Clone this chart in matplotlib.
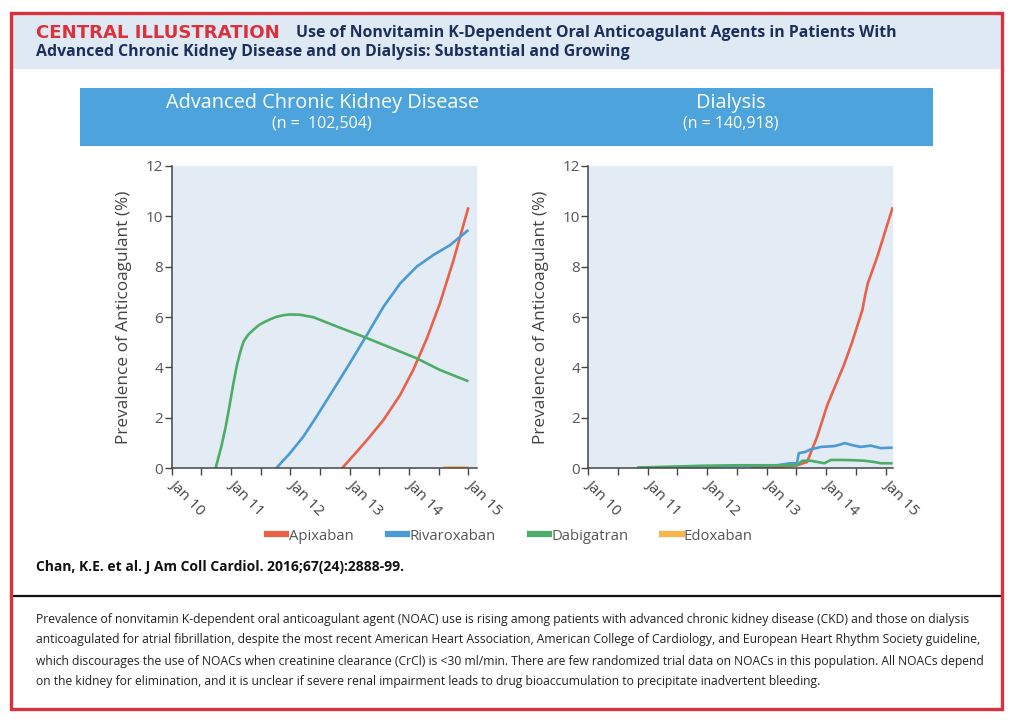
import matplotlib
matplotlib.use("Agg")
import matplotlib.pyplot as plt
import matplotlib.patches as mpatches
from matplotlib.lines import Line2D

plt.rcParams["font.family"] = ["Open Sans", "DejaVu Sans"]

W, H = 1019, 722

# --- data (years since Jan 2010, prevalence %) ---
ckd_apix_x = [2.87, 3.12, 3.34, 3.57, 3.85, 4.07, 4.30, 4.52, 4.75, 5.00]
ckd_apix_y = [0.0, 0.66, 1.26, 1.92, 2.91, 3.90, 5.15, 6.54, 8.26, 10.35]
ckd_riva_x = [1.76, 1.99, 2.22, 2.44, 2.72, 3.00, 3.29, 3.57, 3.85, 4.13, 4.41, 4.69, 5.00]
ckd_riva_y = [0.0, 0.59, 1.26, 2.05, 3.10, 4.16, 5.29, 6.41, 7.33, 8.00, 8.46, 8.85, 9.45]
ckd_dabi_x = [0.74, 0.84, 0.91, 0.98, 1.04, 1.10, 1.16, 1.21, 1.29, 1.38, 1.47, 1.57, 1.67,
              1.77, 1.88, 1.99, 2.16, 2.39, 2.72, 3.23, 3.65, 4.13, 4.52, 5.00]
ckd_dabi_y = [0.0, 0.90, 1.65, 2.55, 3.37, 4.10, 4.65, 5.02, 5.30, 5.50, 5.68, 5.81, 5.92,
              6.01, 6.07, 6.10, 6.09, 5.99, 5.68, 5.22, 4.82, 4.36, 3.90, 3.45]
ckd_edox_x = [4.58, 5.00]
ckd_edox_y = [0.05, 0.05]

dia_apix_x = [2.73, 3.20, 3.51, 3.68, 3.85, 4.02, 4.30, 4.44, 4.61, 4.66, 4.70, 4.86, 5.12]
dia_apix_y = [0.02, 0.05, 0.12, 0.25, 1.26, 2.51, 4.10, 5.02, 6.28, 6.90, 7.33, 8.39, 10.35]
dia_riva_x = [0.87, 1.50, 2.50, 3.18, 3.40, 3.51, 3.54, 3.65, 3.74, 3.92, 4.14, 4.25, 4.31,
              4.47, 4.58, 4.69, 4.75, 4.92, 5.12]
dia_riva_y = [0.03, 0.05, 0.09, 0.12, 0.20, 0.20, 0.60, 0.65, 0.75, 0.85, 0.88, 0.95, 1.00,
              0.90, 0.85, 0.88, 0.90, 0.80, 0.82]
dia_dabi_x = [0.82, 1.50, 1.88, 2.50, 3.51, 3.60, 3.74, 3.97, 4.08, 4.30, 4.47, 4.64, 4.81, 4.92, 5.12]
dia_dabi_y = [0.03, 0.07, 0.10, 0.12, 0.12, 0.30, 0.30, 0.20, 0.33, 0.33, 0.32, 0.30, 0.25, 0.20, 0.20]

tick_labels = ["Jan 10", "Jan 11", "Jan 12", "Jan 13", "Jan 14", "Jan 15"]
drugs = ["Apixaban", "Rivaroxaban", "Dabigatran", "Edoxaban"]
colors = ["#ea6049", "#4a9ad4", "#4cae66", "#f7b550"]


def fx(x):
    return x / W


def fy(y):
    return 1 - y / H


fig = plt.figure(figsize=(W / 100, H / 100), dpi=100)
fig.patch.set_facecolor("white")

# header band + red frame
fig.patches.append(mpatches.Rectangle((fx(11), fy(69)), fx(991), 55 / H,
                                      transform=fig.transFigure, facecolor="#dfe9f4",
                                      edgecolor="none", zorder=0))
fig.patches.append(mpatches.Rectangle((fx(11), fy(709)), fx(991), 696 / H,
                                      transform=fig.transFigure, facecolor="none",
                                      edgecolor="#d9323c", linewidth=2.4, zorder=5))
fig.text(fx(36), fy(33), "CENTRAL ILLUSTRATION", color="#d9323c", fontsize=13.1,
         fontweight="bold", va="center", ha="left", family=["DejaVu Sans"])
fig.text(fx(296), fy(33), "Use of Nonvitamin K-Dependent Oral Anticoagulant Agents in Patients With",
         color="#1c2f5a", fontsize=11.45, fontweight="bold", va="center", ha="left")
fig.text(fx(36), fy(52), "Advanced Chronic Kidney Disease and on Dialysis: Substantial and Growing",
         color="#1c2f5a", fontsize=11.45, fontweight="bold", va="center", ha="left")

# blue title band
fig.patches.append(mpatches.Rectangle((fx(80), fy(146)), fx(853), 58 / H,
                                      transform=fig.transFigure, facecolor="#4da3db",
                                      edgecolor="none", zorder=0))
fig.text(fx(322), fy(103), "Advanced Chronic Kidney Disease", color="white", fontsize=14.3,
         ha="center", va="center")
fig.text(fx(322), fy(123), "(n =  102,504)", color="white", fontsize=11.5, ha="center", va="center")
fig.text(fx(731), fy(103), "Dialysis", color="white", fontsize=14.3, ha="center", va="center")
fig.text(fx(731), fy(123), "(n = 140,918)", color="white", fontsize=11.5, ha="center", va="center")


def panel(left, right_lim, series):
    ax = fig.add_axes([fx(left), fy(468.3), 305 / W, 302.6 / H])
    ax.set_facecolor("#e3ebf5")
    for (x, y), c in zip(series, colors):
        if x:
            ax.plot(x, y, color=c, lw=1.9, solid_capstyle="butt", solid_joinstyle="round")
    ax.set_xlim(0, right_lim)
    ax.set_ylim(0, 12)
    ax.set_yticks([0, 2, 4, 6, 8, 10, 12])
    ax.set_xticks(range(6))
    ax.set_xticks([0.5, 1.5, 2.5, 3.5, 4.5], minor=True)
    ax.set_xticklabels(tick_labels, rotation=-45, ha="left", va="center",
                       rotation_mode="anchor", fontsize=11, color="#444444")
    ax.tick_params(axis="y", labelsize=11, labelcolor="#555555", length=5,
                   width=1, color="#444444", pad=1)
    ax.tick_params(axis="x", which="both", length=5, width=1, color="#444444",
                   direction="out", pad=5)
    for s in ["top", "right"]:
        ax.spines[s].set_visible(False)
    for s in ["left", "bottom"]:
        ax.spines[s].set_color("#444444")
        ax.spines[s].set_linewidth(1.1)
    ax.set_ylabel("Prevalence of Anticoagulant (%)", fontsize=12.4, color="#444444", labelpad=10)
    return ax


panel(171.7, 5.14, [(ckd_apix_x, ckd_apix_y), (ckd_riva_x, ckd_riva_y),
                    (ckd_dabi_x, ckd_dabi_y), (ckd_edox_x, ckd_edox_y)])
panel(588.3, 5.13, [(dia_apix_x, dia_apix_y), (dia_riva_x, dia_riva_y),
                    (dia_dabi_x, dia_dabi_y), ([], [])])

handles = [Line2D([], [], color=c, lw=4.5) for c in colors]
fig.legend(handles, drugs, loc="center", bbox_to_anchor=(fx(510), fy(536)), ncol=4,
           frameon=False, handlelength=1.3, handletextpad=0.15, columnspacing=2.3,
           prop={"size": 10.7}, labelcolor="#555555")

fig.text(fx(36), fy(567), "Chan, K.E. et al. J Am Coll Cardiol. 2016;67(24):2888-99.",
         fontsize=10.0, fontweight="bold", color="#111111", va="center", ha="left")

fig.add_artist(Line2D([fx(11), fx(1002)], [fy(596), fy(596)], color="#111111", lw=1.6))

caption = [
    "Prevalence of nonvitamin K-dependent oral anticoagulant agent (NOAC) use is rising among patients with advanced chronic kidney disease (CKD) and those on dialysis",
    "anticoagulated for atrial fibrillation, despite the most recent American Heart Association, American College of Cardiology, and European Heart Rhythm Society guideline,",
    "which discourages the use of NOACs when creatinine clearance (CrCl) is <30 ml/min. There are few randomized trial data on NOACs in this population. All NOACs depend",
    "on the kidney for elimination, and it is unclear if severe renal impairment leads to drug bioaccumulation to precipitate inadvertent bleeding.",
]
for i, line in enumerate(caption):
    fig.text(fx(36), fy(619 + i * 21), line, fontsize=8.75, color="#222222",
             va="center", ha="left")

plt.savefig("out.png", dpi=100)
